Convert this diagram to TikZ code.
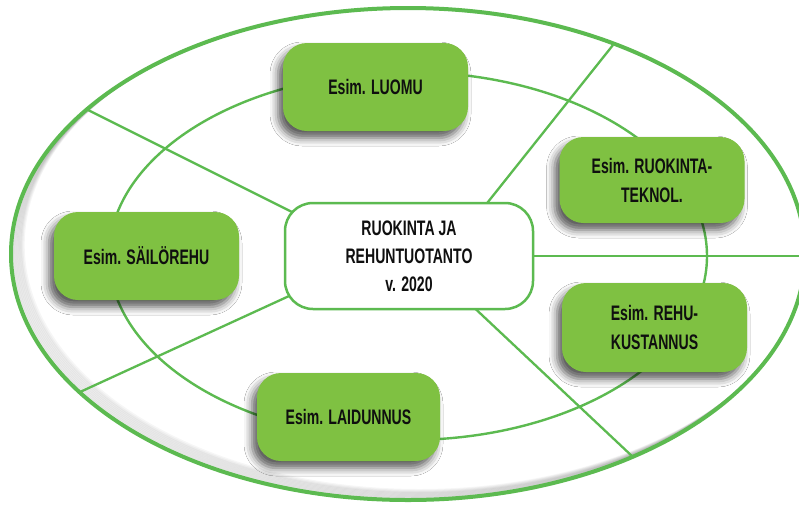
\documentclass[tikz,border=0pt]{standalone}
\usepackage{fontspec}
\setmainfont[FakeStretch=0.67,UprightFont={* Bold}]{Liberation Sans}
\usetikzlibrary{shadows.blur}
\definecolor{linegreen}{RGB}{92,186,80}
\definecolor{boxgreen}{RGB}{127,193,66}
\definecolor{txt}{RGB}{15,15,15}
\tikzset{
  ring/.style={draw=linegreen, line width=2.4pt},
  outerring/.style={draw=linegreen, line width=4pt},
  spoke/.style={draw=linegreen, line width=2.3pt},
  gbox/.style={rounded corners=24pt, fill=boxgreen, minimum width=185pt,
    minimum height=88pt, inner sep=0pt, align=center, text=txt,
    font=\fontsize{21}{29}\selectfont,
    blur shadow={shadow xshift=-5pt, shadow yshift=-7pt,
      shadow blur radius=8pt, shadow opacity=65}},
  cbox/.style={rounded corners=28pt, draw=linegreen, line width=2.5pt,
    fill=white, minimum width=248pt, minimum height=106pt, inner sep=0pt,
    align=center, text=txt, font=\fontsize{21}{28}\selectfont}
}
\begin{document}
\begin{tikzpicture}[x=1pt,y=-1pt]
\useasboundingbox (0,0) rectangle (799,504);
\clip (0,0) rectangle (799,504);
\fill[white] (0,0) rectangle (799,504);

% soft inner shadow of the outer ring
\begin{scope}
  \clip (408,254) ellipse [x radius=397pt, y radius=246pt];
  \foreach \i in {1,...,9}{
    \draw[black, opacity=0.035, line width=4pt]
      (408+1.3*\i,254-1.0*\i) ellipse [x radius=397pt, y radius=246pt];
  }
\end{scope}

% rings
\draw[outerring] (408,254) ellipse [x radius=397pt, y radius=246pt];
\draw[ring] (408,256) ellipse [x radius=299pt, y radius=184pt];

% spoke end points
\coordinate (oUL) at (88,110);
\coordinate (iUL) at (300,216);
\coordinate (oUR) at (613,45);
\coordinate (iUR) at (480,212);
\coordinate (oR)  at (805,256);
\coordinate (iR)  at (520,256);
\coordinate (oLR) at (633,457);
\coordinate (iLR) at (466,300);
\coordinate (oLL) at (80,392);
\coordinate (iLL) at (300,291);

\draw[spoke] (oUL) -- (iUL);
\draw[spoke] (oUR) -- (iUR);
\draw[spoke] (oR) -- (iR);
\draw[spoke] (oLR) -- (iLR);
\draw[spoke] (oLL) -- (iLL);

% centre
\node[cbox] (c) at (409,256) {RUOKINTA JA\\REHUNTUOTANTO\\v. 2020};

% green boxes
\node[gbox] (luomu) at (375.5,87) {Esim. LUOMU};
\node[gbox, minimum height=86pt] (tekno) at (652,180) {Esim. RUOKINTA-\\TEKNOL.};
\node[gbox] (sailo) at (146.5,256) {Esim. SÄILÖREHU};
\node[gbox, minimum height=89pt] (kust) at (654.5,327.5) {Esim. REHU-\\KUSTANNUS};
\node[gbox, minimum width=183pt] (laid) at (348.5,417) {Esim. LAIDUNNUS};
\end{tikzpicture}
\end{document}
